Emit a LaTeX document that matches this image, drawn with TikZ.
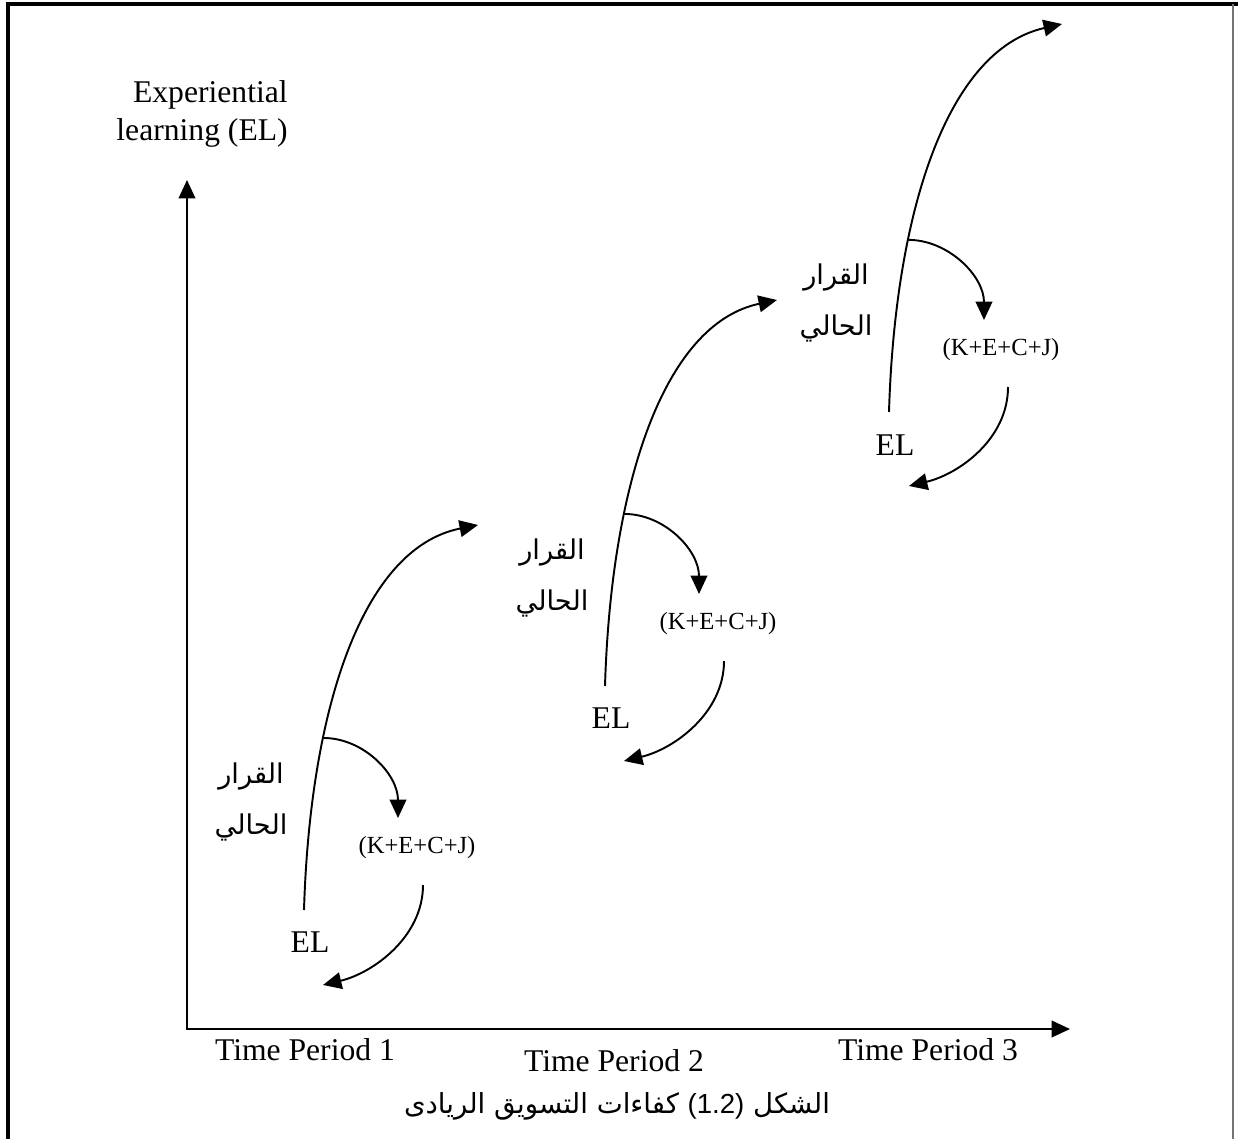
\documentclass[tikz,border=0pt]{standalone}
\usepackage{fontspec}
\setmainfont{Liberation Serif}
\newfontfamily\arabicfont[Script=Arabic]{DejaVu Sans}
\newfontfamily\capfont{Liberation Sans}
\TeXXeTstate=1
\usetikzlibrary{arrows.meta,positioning,calc}
\tikzset{
  txt/.style={font=\fontsize{18}{21.5}\selectfont, inner sep=0pt, align=center},
  sumlab/.style={font=\fontsize{14}{17}\selectfont, inner sep=0pt},
  arlab/.style={font=\arabicfont\fontsize{15.5}{29}\selectfont, inner sep=0pt,
    align=center},
  edge/.style={-{Triangle[length=10.5pt,width=9.5pt]}, line width=1.1pt},
  axis/.style={{Triangle[length=10.5pt,width=9.5pt]}-{Triangle[length=10.5pt,width=9.5pt]},
    line width=1.1pt},
  frameline/.style={line width=2.2pt},
}

\begin{document}
\begin{tikzpicture}[x=0.02cm, y=-0.02cm]

\useasboundingbox (0,0) rectangle (1238,1139);

% ── frame (open at the bottom) ─────────────────────────────────────────────
\draw[frameline] (8,1139) -- (8,4) -- (1238,4);
\draw[line width=0.8pt, black!55] (1233,4) -- (1233,1139);

% ── axes ───────────────────────────────────────────────────────────────────
\coordinate (o) at (187,1029);
\coordinate (ytop) at (187,180);
\coordinate (xend) at (1070,1029);
\draw[axis] (ytop) -- (o) -- (xend);

\node[txt, anchor=east, align=right] (ylab) at (288,114)
  {Experiential\\learning (EL)};

\node[txt] (tp1) at (305,1050) {Time Period 1};
\node[txt] (tp2) at (614,1061) {Time Period 2};
\node[txt] (tp3) at (928,1050) {Time Period 3};

% ── period 1 ───────────────────────────────────────────────────────────────
\node[txt] (el1) at (310,942) {EL};
\node[sumlab] (k1) at (417,848) {(K+E+C+J)};
\node[arlab] (d1) at (251,802) {\beginR القرار\endR\\\beginR الحالي\endR};
\coordinate (s1) at (304,910);
\coordinate (t1) at (478,525);
\coordinate (a1) at (398,818);
\coordinate (c1) at (423,885);
\coordinate (e1) at (323,985);
\draw[edge] (s1) .. controls (310,710) and (362,548) .. coordinate[pos=0.31] (b1) (t1);
\draw[edge] (b1) .. controls +(40,0) and +(0,-44) .. (a1);
\draw[edge] (c1) .. controls +(0,52) and +(50,-12) .. (e1);

% ── period 2 ───────────────────────────────────────────────────────────────
\node[txt] (el2) at (611,718) {EL};
\node[sumlab] (k2) at (718,624) {(K+E+C+J)};
\node[arlab] (d2) at (552,578) {\beginR القرار\endR\\\beginR الحالي\endR};
\coordinate (s2) at (605,686);
\coordinate (t2) at (777,300);
\coordinate (a2) at (699,594);
\coordinate (c2) at (724,661);
\coordinate (e2) at (624,761);
\draw[edge] (s2) .. controls (611,486) and (663,324) .. coordinate[pos=0.31] (b2) (t2);
\draw[edge] (b2) .. controls +(40,0) and +(0,-44) .. (a2);
\draw[edge] (c2) .. controls +(0,52) and +(50,-12) .. (e2);

% ── period 3 ───────────────────────────────────────────────────────────────
\node[txt] (el3) at (895,445) {EL};
\node[sumlab] (k3) at (1001,350) {(K+E+C+J)};
\node[arlab] (d3) at (836,303) {\beginR القرار\endR\\\beginR الحالي\endR};
\coordinate (s3) at (889,412);
\coordinate (t3) at (1062,24);
\coordinate (a3) at (984,320);
\coordinate (c3) at (1008,387);
\coordinate (e3) at (909,486);
\draw[edge] (s3) .. controls (895,212) and (947,50) .. coordinate[pos=0.31] (b3) (t3);
\draw[edge] (b3) .. controls +(40,0) and +(0,-44) .. (a3);
\draw[edge] (c3) .. controls +(0,52) and +(50,-12) .. (e3);

% ── caption ────────────────────────────────────────────────────────────────
\node[font=\arabicfont\fontsize{15.7}{19}\selectfont, inner sep=0pt] (cap) at (617,1106)
  {\beginR الشكل \beginL{\capfont(1.2)}\endL{} كفاءات التسويق الريادى\endR};

\end{tikzpicture}
\end{document}
